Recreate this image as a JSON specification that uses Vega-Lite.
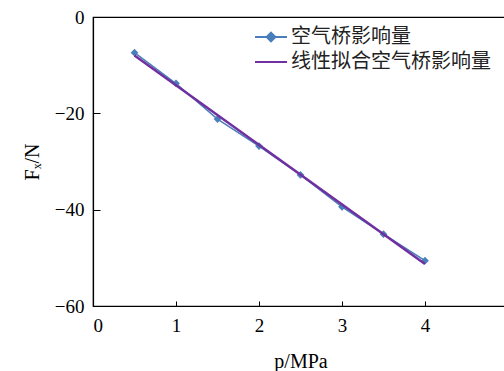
{
  "$schema": "https://vega.github.io/schema/vega-lite/v6.json",
  "width": 415,
  "height": 289,
  "autosize": "none",
  "padding": {"left": 93, "top": 17, "right": 0, "bottom": 65},
  "background": "white",
  "config": {
    "view": {"stroke": "black", "strokeWidth": 1.2},
    "axis": {
      "grid": false,
      "domainColor": "black",
      "domainWidth": 1.2,
      "tickColor": "black",
      "tickWidth": 1,
      "labelFont": "Liberation Serif",
      "labelFontSize": 19,
      "labelColor": "black",
      "titleFont": "Liberation Serif",
      "titleFontSize": 20,
      "titleFontWeight": "normal",
      "titleColor": "black"
    }
  },
  "data": {
    "values": [
      {"p": 0.5, "F": -7.4, "series": "空气桥影响量"},
      {"p": 1.0, "F": -13.8, "series": "空气桥影响量"},
      {"p": 1.5, "F": -21.2, "series": "空气桥影响量"},
      {"p": 2.0, "F": -26.8, "series": "空气桥影响量"},
      {"p": 2.5, "F": -32.8, "series": "空气桥影响量"},
      {"p": 3.0, "F": -39.4, "series": "空气桥影响量"},
      {"p": 3.5, "F": -45.1, "series": "空气桥影响量"},
      {"p": 4.0, "F": -50.6, "series": "空气桥影响量"},
      {"p": 0.5, "F": -8.0, "series": "线性拟合空气桥影响量"},
      {"p": 4.0, "F": -51.3, "series": "线性拟合空气桥影响量"}
    ]
  },
  "encoding": {
    "x": {
      "field": "p", "type": "quantitative",
      "scale": {"domain": [0, 5]},
      "axis": {"title": "p/MPa", "values": [0, 1, 2, 3, 4], "tickSize": -5, "labelPadding": 15, "titlePadding": 16}
    },
    "y": {
      "field": "F", "type": "quantitative",
      "scale": {"domain": [-60, 0]},
      "axis": {"title": "Fₓ/N", "values": [-60, -40, -20, 0], "tickSize": -7, "labelPadding": 16, "titlePadding": 12}
    },
    "color": {
      "field": "series", "type": "nominal",
      "scale": {"domain": ["空气桥影响量", "线性拟合空气桥影响量"], "range": ["#4a7ebb", "#7030a0"]},
      "legend": {
        "title": null,
        "orient": "none",
        "legendX": 168,
        "legendY": 10,
        "padding": 0,
        "symbolSize": 256,
        "symbolStrokeWidth": 2,
        "labelOffset": 10,
        "labelLimit": 400,
        "labelFont": "Noto Sans CJK SC",
        "labelFontSize": 20,
        "labelColor": "#222222",
        "rowPadding": 5,
        "encode": {
          "symbols": {
            "update": {
              "shape": {"signal": "datum.value === '空气桥影响量' ? 'M-2,0L2,0M0,-0.55L0.55,0L0,0.55L-0.55,0Z' : 'M-2,0L2,0'"},
              "fill": {"signal": "datum.value === '空气桥影响量' ? '#4a7ebb' : 'transparent'"}
            }
          }
        }
      }
    }
  },
  "layer": [
    {
      "transform": [{"filter": "datum.series === '空气桥影响量'"}],
      "mark": {"type": "line", "strokeWidth": 1.5, "point": {"shape": "diamond", "size": 60, "filled": true}}
    },
    {
      "transform": [{"filter": "datum.series === '线性拟合空气桥影响量'"}],
      "mark": {"type": "line", "strokeWidth": 2.5}
    }
  ]
}
